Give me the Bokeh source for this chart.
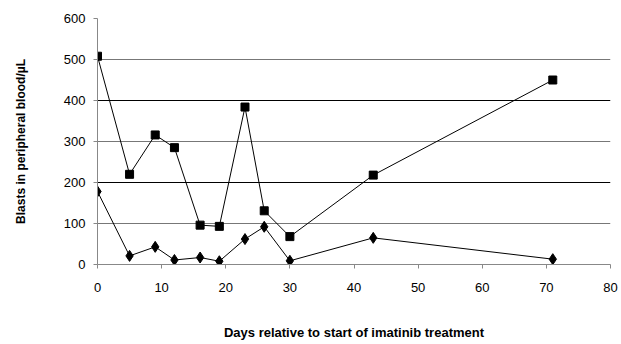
from bokeh.plotting import figure
from bokeh.models import Range1d, FixedTicker, Grid, ColumnDataSource
from bokeh.embed import file_html
from bokeh.resources import INLINE

days = [0, 5, 9, 12, 16, 19, 23, 26, 30, 43, 71]
series_square = [508, 220, 316, 285, 96, 93, 384, 131, 68, 218, 450]
series_diamond = [178, 21, 43, 11, 17, 8, 62, 92, 9, 65, 13]
x_ticks = [0, 10, 20, 30, 40, 50, 60, 70, 80]
y_ticks = [0, 100, 200, 300, 400, 500, 600]
dark_grid = [200, 400, 600]
light_grid = [100, 300, 500]

FONT = "Liberation Sans"

p = figure(width=620, height=343, output_backend="svg", toolbar_location=None,
           x_range=Range1d(0, 80), y_range=Range1d(0, 600),
           min_border_left=97, min_border_right=10, min_border_top=18, min_border_bottom=79)
p.outline_line_color = None
p.xgrid.grid_line_color = None
p.ygrid.grid_line_color = None

g1 = Grid(dimension=1, ticker=FixedTicker(ticks=dark_grid), grid_line_color="#000000", grid_line_width=1)
g2 = Grid(dimension=1, ticker=FixedTicker(ticks=light_grid), grid_line_color="#777777", grid_line_width=1)
g3 = Grid(dimension=0, ticker=FixedTicker(ticks=[80]), grid_line_color="#333333", grid_line_width=1)
p.add_layout(g1)
p.add_layout(g2)
p.add_layout(g3)

for ax in (p.xaxis, p.yaxis):
    ax.axis_line_color = "#888888"
    ax.major_tick_line_color = "#888888"
    ax.minor_tick_line_color = None
    ax.major_label_text_font = FONT
    ax.major_label_text_font_size = "13px"
    ax.major_label_text_color = "#000000"
    ax.axis_label_text_font = FONT
    ax.axis_label_text_font_style = "bold"
    ax.axis_label_text_color = "#000000"
    ax.major_tick_in = 0
    ax.major_tick_out = 4

p.xaxis.axis_label_text_font_size = "13px"
p.yaxis.axis_label_text_font_size = "12px"
p.xaxis.ticker = FixedTicker(ticks=x_ticks)
p.yaxis.ticker = FixedTicker(ticks=y_ticks)
p.xaxis.major_label_standoff = 14
p.yaxis.major_label_standoff = 8
p.xaxis.axis_label_standoff = 30
p.yaxis.axis_label_standoff = 33
p.xaxis.axis_label = "Days relative to start of imatinib treatment"
p.yaxis.axis_label = "Blasts in peripheral blood/µL"

src = ColumnDataSource(dict(x=days, sq=series_square, di=series_diamond))
p.line("x", "sq", source=src, line_color="black", line_width=1)
p.line("x", "di", source=src, line_color="black", line_width=1)
p.scatter("x", "sq", source=src, marker="square", size=8, fill_color="black", line_color="black")
p.scatter("x", "di", source=src, marker="diamond", size=11, fill_color="black", line_color="black")

open("out.html", "w").write(file_html(p, INLINE))
